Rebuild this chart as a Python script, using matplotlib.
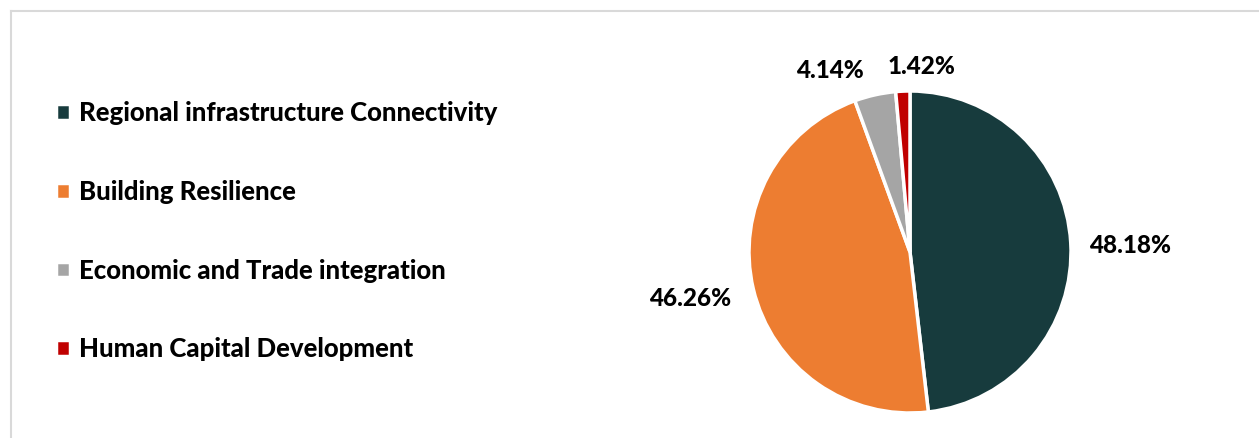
import matplotlib
matplotlib.use("Agg")
import matplotlib.pyplot as plt
from matplotlib.lines import Line2D

categories = ["Regional infrastructure Connectivity", "Building Resilience",
              "Economic and Trade integration", "Human Capital Development"]
values = [48.18, 46.26, 4.14, 1.42]
colors = ["#173b3d", "#ed7d31", "#a5a5a5", "#c00000"]

plt.rcParams['font.family'] = ['Lato', 'DejaVu Sans']

W, H = 1259, 438
fig = plt.figure(figsize=(W/100, H/100), dpi=100)

# frame lines (top and left)
fig.add_artist(Line2D([11/W, 1], [1-11/H, 1-11/H], color="#d9d9d9", lw=1.5, transform=fig.transFigure))
fig.add_artist(Line2D([11/W, 11/W], [0, 1-11/H], color="#d9d9d9", lw=1.5, transform=fig.transFigure))

cx, cy, r = 910, 252, 161
ax = fig.add_axes([(cx-r)/W, (H-cy-r)/H, 2*r/W, 2*r/H])
wedges, _ = ax.pie(values, colors=colors, startangle=90, counterclock=False,
                   wedgeprops=dict(edgecolor="white", linewidth=2.5))
ax.set_xlim(-1, 1); ax.set_ylim(-1, 1)
ax.set_aspect('equal')

label_pos = [(1130, 245), (690, 299), (830, 70), (922, 67)]
for v, (x, y) in zip(values, label_pos):
    fig.text(x/W, 1-y/H, f"{v:.2f}%", ha="center", va="center",
             fontsize=17.5, fontweight="black", color="black")

leg = fig.legend(wedges, categories, loc="upper left",
                 bbox_to_anchor=(33/W, 1-78/H), frameon=False,
                 prop=dict(size=18.5, weight="black"), handlelength=0.55, handleheight=0.55,
                 handletextpad=0.35, labelspacing=2.13)
for t in leg.get_texts():
    t.set_color("black")

fig.savefig("out.png", dpi=100)
